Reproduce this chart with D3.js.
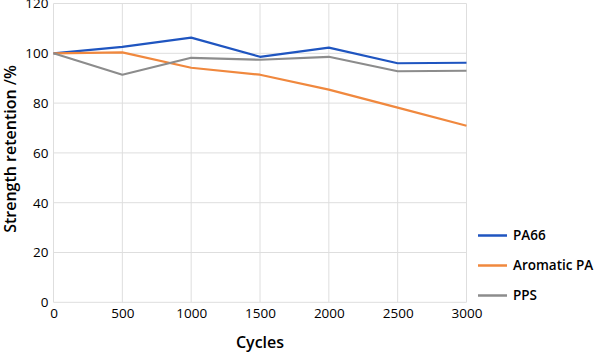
<!DOCTYPE html>
<html><head><meta charset="utf-8">
<script src="https://cdn.jsdelivr.net/npm/d3@7"></script>
<style>body{margin:0;background:#fff}svg{display:block}</style>
</head><body>
<svg id="c" width="599" height="353"></svg>
<script>
const cycles = [0, 500, 1000, 1500, 2000, 2500, 3000];
const pa66 = [100, 102.6, 106.3, 98.6, 102.3, 96.0, 96.2];
const aromaticPA = [100, 100.4, 94.2, 91.4, 85.4, 78.2, 70.9];
const pps = [100, 91.4, 98.2, 97.4, 98.6, 92.8, 93.0];
const seriesNames = ["PA66", "Aromatic PA", "PPS"];
const seriesColors = ["#1f55c0", "#f0883e", "#8c8c8c"];
const yTicks = [0, 20, 40, 60, 80, 100, 120];
const xTicks = [0, 500, 1000, 1500, 2000, 2500, 3000];

const series = [pa66, aromaticPA, pps];
const svg = d3.select("#c");
const font = "'Open Sans', 'Noto Sans', sans-serif";
const x = d3.scaleLinear().domain([0, 3000]).range([53.5, 466.5]);
const y = d3.scaleLinear().domain([0, 120]).range([302.3, 3.5]);

const grid = svg.append("g");
grid.selectAll("line.h").data(yTicks).join("line")
  .attr("x1", x(0)).attr("x2", x(3000)).attr("y1", d => y(d)).attr("y2", d => y(d))
  .attr("stroke", "#dedede").attr("stroke-width", 1);
grid.selectAll("line.v").data(xTicks).join("line")
  .attr("y1", y(0)).attr("y2", y(120)).attr("x1", d => x(d)).attr("x2", d => x(d))
  .attr("stroke", "#dedede").attr("stroke-width", 1);

const xAxis = svg.append("g").attr("transform", `translate(0,${y(0)})`)
  .call(d3.axisBottom(x).tickValues(xTicks).tickSize(0).tickPadding(6).tickFormat(d3.format("d")));
xAxis.select(".domain").remove();
xAxis.selectAll("text").attr("font-family", font).attr("font-size", 13.5).attr("font-weight", 500).attr("fill", "#000");

const yAxis = svg.append("g").attr("transform", `translate(${x(0)},0)`)
  .call(d3.axisLeft(y).tickValues(yTicks).tickSize(0).tickPadding(5));
yAxis.select(".domain").remove();
yAxis.selectAll("text").attr("font-family", font).attr("font-size", 13.5).attr("font-weight", 500).attr("fill", "#000");

const line = d3.line().x((d, i) => x(cycles[i])).y(d => y(d));
series.forEach((s, k) => {
  svg.append("path").datum(s).attr("d", line).attr("fill", "none")
    .attr("stroke", seriesColors[k]).attr("stroke-width", 2.2).attr("stroke-linejoin", "round");
});

svg.append("text").attr("x", 260).attr("y", 348).attr("text-anchor", "middle")
  .attr("font-family", font).attr("font-size", 16).attr("font-weight", 600).text("Cycles");
svg.append("text").attr("transform", "translate(16,149) rotate(-90)").attr("text-anchor", "middle")
  .attr("font-family", font).attr("font-size", 16).attr("font-weight", 600).text("Strength retention /%");

const lg = svg.append("g");
seriesNames.forEach((n, k) => {
  const yy = 235.5 + k * 30;
  lg.append("line").attr("x1", 478).attr("x2", 507).attr("y1", yy).attr("y2", yy)
    .attr("stroke", seriesColors[k]).attr("stroke-width", 2.5);
  lg.append("text").attr("x", 513).attr("y", yy).attr("dy", "0.35em")
    .attr("font-family", font).attr("font-size", 13.5).attr("font-weight", 600).text(n);
});
</script>
</body></html>
